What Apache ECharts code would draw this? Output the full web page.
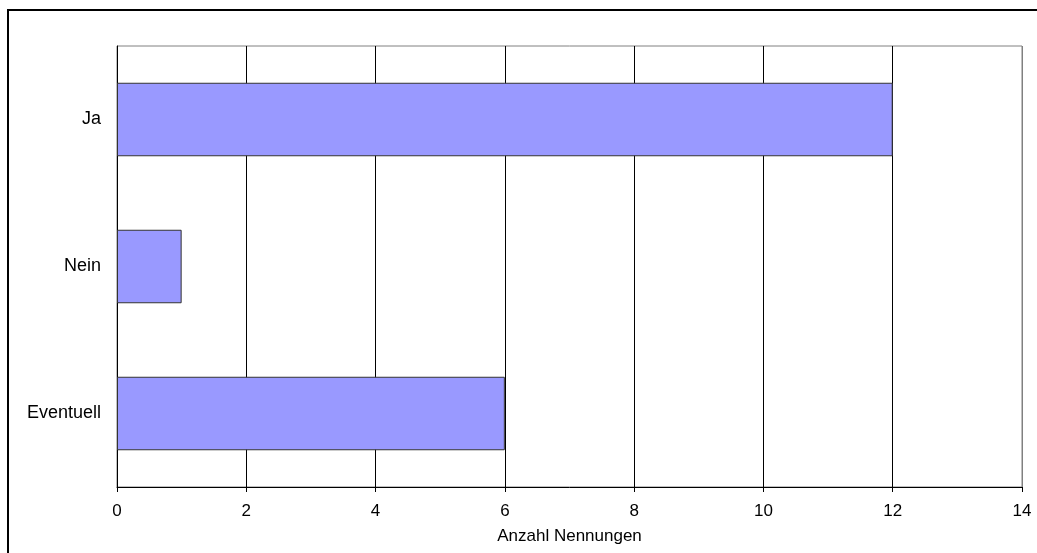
<!DOCTYPE html>
<html>
<head>
<meta charset="utf-8">
<script src="https://cdn.jsdelivr.net/npm/echarts@6/dist/echarts.min.js"></script>
<style>
  html, body { margin: 0; padding: 0; background: #fff; }
  #chart { width: 1037px; height: 553px; }
</style>
</head>
<body>
<div id="chart"></div>
<script>
// Antworten und Anzahl der Nennungen
const categories = ['Ja', 'Nein', 'Eventuell'];
const counts = [12, 1, 6];
const axisTitle = 'Anzahl Nennungen';

const chart = echarts.init(document.getElementById('chart'), null, { renderer: 'canvas' });

const font = '"Liberation Sans", Arial, sans-serif';

chart.setOption({
  animation: false,
  backgroundColor: '#ffffff',
  graphic: [{
    type: 'rect',
    shape: { x: 8, y: 10, width: 1200, height: 700 },
    style: { fill: 'none', stroke: '#000', lineWidth: 2 },
    silent: true,
    z: 0
  }],
  grid: {
    left: 117, right: 15, top: 46, bottom: 66,
    show: true,
    borderColor: '#808080',
    borderWidth: 1,
    backgroundColor: 'transparent'
  },
  xAxis: {
    type: 'value',
    min: 0, max: 14, interval: 2,
    name: axisTitle,
    nameLocation: 'middle',
    nameGap: 41,
    nameTextStyle: { fontFamily: font, fontSize: 17, color: '#000' },
    axisLine: { show: true, lineStyle: { color: '#000', width: 1 } },
    axisTick: { show: true, length: 5, lineStyle: { color: '#000' } },
    axisLabel: { fontFamily: font, fontSize: 17, color: '#000', margin: 16 },
    splitLine: {
      show: true,
      lineStyle: {
        color: ['#000', '#000', '#000', '#000', '#000', '#000', '#000', '#808080'],
        width: 1
      }
    }
  },
  yAxis: {
    type: 'category',
    data: categories,
    inverse: true,
    axisLine: { show: true, lineStyle: { color: '#000', width: 1 } },
    axisTick: { show: false },
    axisLabel: { fontFamily: font, fontSize: 18, color: '#000', margin: 16 },
    splitLine: { show: false }
  },
  series: [{
    type: 'bar',
    data: counts,
    barWidth: '50%',
    itemStyle: { color: '#9999FF', borderColor: '#333333', borderWidth: 1 },
    z: 3
  }]
});
</script>
</body>
</html>
